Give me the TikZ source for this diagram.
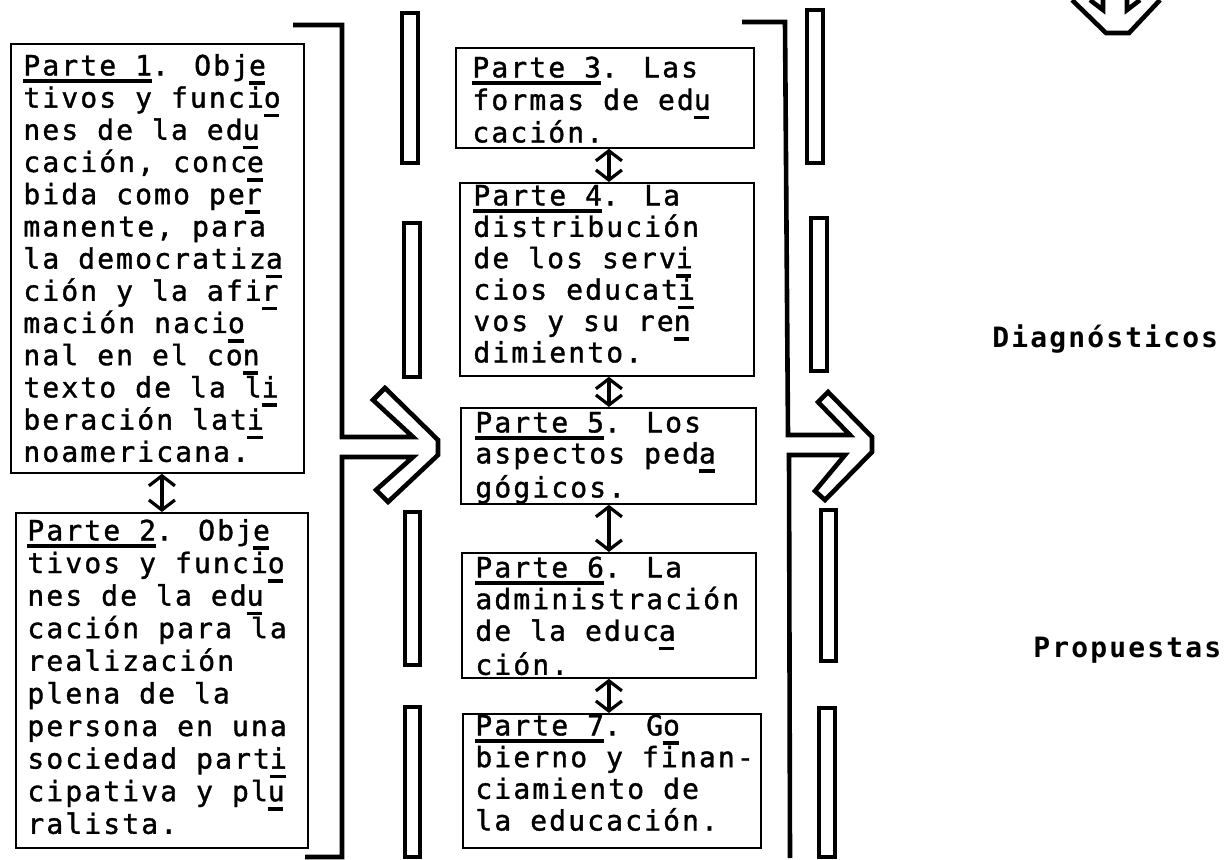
\documentclass[tikz,border=0pt]{standalone}
\usepackage{fontspec}
\usetikzlibrary{arrows.meta,calc}
\newfontfamily\boxfont[LetterSpace=7.6,FakeBold=1.3]{DejaVu Sans Mono}
\newfontfamily\lblfont[LetterSpace=7.6]{DejaVu Sans Mono Bold}
\newcommand\hy[1]{\makebox[0pt][l]{\rule[-4.8pt]{7.8pt}{1.8pt}}#1}
\newcommand\ulp[1]{\setbox0\hbox{#1}\makebox[0pt][l]{\rule[-3.6pt]{\wd0}{1.8pt}}\box0}
\newcommand\fl{\rule{0pt}{11pt}}
\begin{document}
\begin{tikzpicture}[x=0.5pt,y=-0.5pt,
  box/.style={draw, line width=0.9pt, inner sep=0pt, anchor=north west},
  txt/.style={anchor=north west, inner sep=0pt, align=left,
    font={\boxfont\fontsize{14pt}{#1}\selectfont}},
  lbl/.style={anchor=base west, inner sep=0pt,
    font={\lblfont\fontsize{14pt}{16pt}\selectfont}},
  brk/.style={line width=2.3pt, line join=miter},
  slot/.style={line width=2pt},
  dbl/.style={line width=1.6pt,
    {Straight Barb[length=5pt,width=13pt]}-{Straight Barb[length=5pt,width=13pt]}}]
\useasboundingbox (0,0) rectangle (1226,860);

% boxes
\node[box, minimum width=146.5pt, minimum height=214.5pt] (p1) at (10,43) {};
\node[box, minimum width=146pt,   minimum height=167.5pt] (p2) at (15,512) {};
\node[box, minimum width=149pt,   minimum height=50pt]    (p3) at (455,47) {};
\node[box, minimum width=147pt,   minimum height=96.5pt]  (p4) at (459,182) {};
\node[box, minimum width=147.5pt, minimum height=48pt]    (p5) at (460,407) {};
\node[box, minimum width=147pt,   minimum height=62.5pt]  (p6) at (461,552) {};
\node[box, minimum width=149pt,   minimum height=67pt]    (p7) at (462,713) {};

% texts
\node[txt=16.1pt] (t1) at (23,53) {\fl\ulp{Parte 1}. Obj\hy{e}\\
tivos y funci\hy{o}\\
nes de la ed\hy{u}\\
cación, conc\hy{e}\\
bida como pe\hy{r}\\
manente, para\\
la democratiz\hy{a}\\
ción y la afi\hy{r}\\
mación naci\hy{o}\\
nal en el co\hy{n}\\
texto de la l\hy{i}\\
beración lat\hy{i}\\
noamericana.};

\node[txt=16.3pt] (t2) at (27,518) {\fl\ulp{Parte 2}. Obj\hy{e}\\
tivos y funci\hy{o}\\
nes de la ed\hy{u}\\
cación para la\\
realización\\
plena de la\\
persona en una\\
sociedad part\hy{i}\\
cipativa y pl\hy{u}\\
ralista.};

\node[txt=16.25pt] (t3) at (472,55) {\fl\ulp{Parte 3}. Las\\
formas de ed\hy{u}\\
cación.};

\node[txt=15.7pt] (t4) at (473,183) {\fl\ulp{Parte 4}. La\\
distribución\\
de los serv\hy{i}\\
cios educat\hy{i}\\
vos y su re\hy{n}\\
dimiento.};

\node[txt=15.5pt] (t5) at (475,410) {\fl\ulp{Parte 5}. Los\\
aspectos ped\hy{a}\\
gógicos.};

\node[txt=15.85pt] (t6) at (475,555) {\fl\ulp{Parte 6}. La\\
administración\\
de la educ\hy{a}\\
ción.};

\node[txt=15.85pt] (t7) at (475,713) {\fl\ulp{Parte 7}. G\hy{o}\\
bierno y finan-\\
ciamiento de\\
la educación.};

% right labels
\node[lbl] (diag) at (992,348) {Diagnósticos};
\node[lbl] (prop) at (1033,657) {Propuestas};

% connectors
\draw[dbl] (p2.north |- p1.south) -- (p2.north);
\draw[dbl] (p6.north |- p3.south) -- (p6.north |- p4.north);
\draw[dbl] (p6.north |- p4.south) -- (p6.north |- p5.north);
\draw[dbl] (p6.north |- p5.south) -- (p6.north);
\draw[dbl] (p6.north |- p6.south) -- (p6.north |- p7.north);

% left bracket with arrow
\draw[brk] (293,25) -- (342,25) -- (342,437) -- (413,437) -- (373,400) -- (385,388)
  -- (438,440) -- (438,455) -- (388,502) -- (376,490) -- (413,457) -- (342,457)
  -- (342,857) -- (305,857);
% right bracket with arrow
\draw[brk] (742,22) -- (785,22) -- (788,435) -- (850,435) -- (818,402) -- (828,392)
  -- (872,437) -- (872,452) -- (825,500) -- (815,491) -- (845,455) -- (789,455)
  -- (790,858);

% slots
\draw[slot] (402,13) rectangle (418,163);
\draw[slot] (404,223) rectangle (420,377);
\draw[slot] (405,512) rectangle (420,665);
\draw[slot] (405,707) rectangle (420,857);
\draw[slot] (807,10) rectangle (823,163);
\draw[slot] (811,218) rectangle (827,371);
\draw[slot] (821,510) rectangle (836,661);
\draw[slot] (819,708) rectangle (835,857);

% top-right partial arrow
\draw[brk] (1072,0) -- (1106,33) -- (1129,33) -- (1160,0);
\draw[brk] (1090,0) -- (1103,10) -- (1103,0);
\draw[brk] (1140,0) -- (1127,10) -- (1127,0);
\end{tikzpicture}
\end{document}
